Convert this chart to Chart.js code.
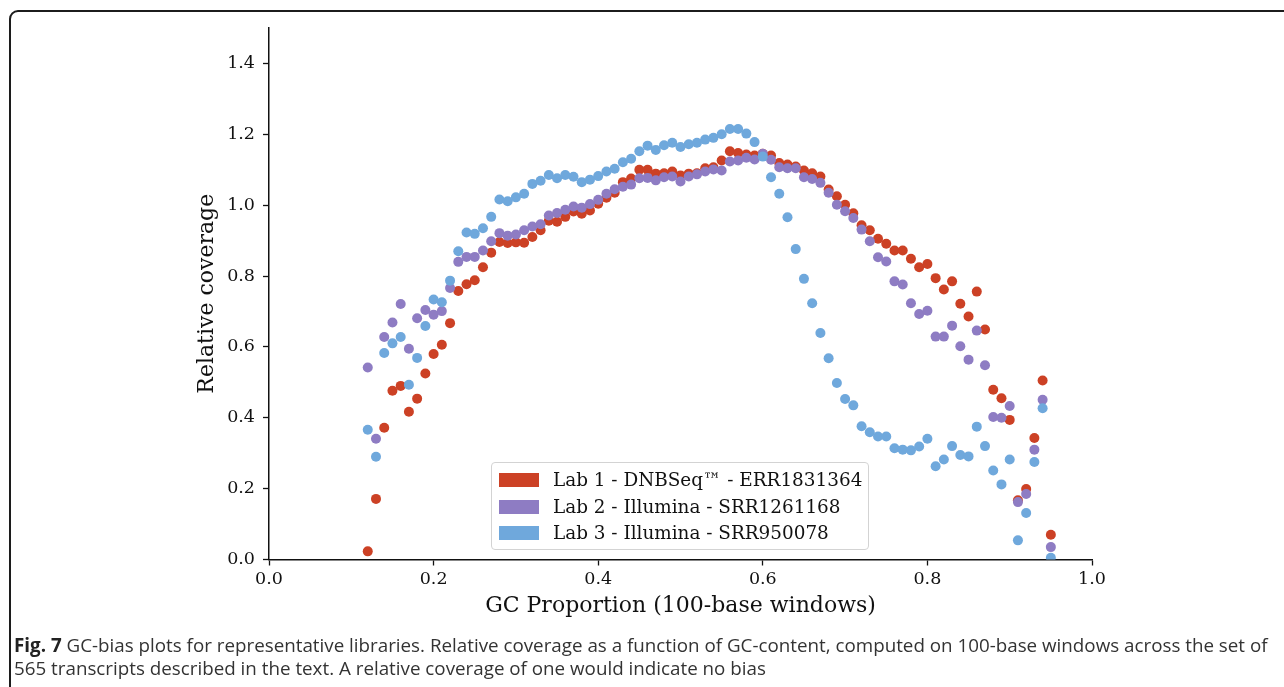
<!DOCTYPE html>
<html>
<head>
<meta charset="utf-8">
<script src="https://cdn.jsdelivr.net/npm/chart.js@4/dist/chart.umd.min.js"></script>
<style>
  html, body { margin: 0; padding: 0; background: #fff; }
  body { width: 1284px; height: 687px; position: relative; overflow: hidden; }
  #frame {
    position: absolute; left: 9px; top: 10px; width: 1400px; height: 800px;
    border: 2px solid #1c1c1c; border-radius: 9px; box-sizing: border-box;
  }
  #wrap { position: absolute; left: 0; top: 0; width: 1284px; height: 687px; }
  #legend {
    position: absolute; left: 491px; top: 462px; width: 378px; height: 88px;
    border: 1px solid #d3d3d3; border-radius: 4px; background: rgba(255,255,255,0.85);
    box-sizing: border-box; font-family: "DejaVu Serif", serif; font-size: 18.4px; color: #111;
  }
  #legend .row { position: absolute; left: 7px; height: 27px; line-height: 27px; white-space: nowrap; }
  #legend .sw { display: inline-block; width: 40px; height: 14px; vertical-align: middle; margin-right: 14px; position: relative; top: -1px; }
  #caption {
    position: absolute; left: 14px; top: 634px; width: 1270px; white-space: nowrap;
    font-family: "Open Sans", sans-serif; font-size: 18.8px; line-height: 23px; color: #333;
  }
  #caption b { color: #222; }
</style>
</head>
<body>
<div id="frame"></div>
<div id="wrap"><canvas id="gcChart" width="1284" height="687"></canvas></div>
<div id="legend"></div>
<div id="caption"><b>Fig. 7</b> GC-bias plots for representative libraries. Relative coverage as a function of GC-content, computed on 100-base windows across the set of<br>565 transcripts described in the text. A relative coverage of one would indicate no bias</div>
<script>
// GC-Anteil pro Fenster (x)
const gcProportion = [0.12,0.13,0.14,0.15,0.16,0.17,0.18,0.19,0.20,0.21,0.22,0.23,0.24,0.25,0.26,0.27,0.28,0.29,0.30,0.31,
  0.32,0.33,0.34,0.35,0.36,0.37,0.38,0.39,0.40,0.41,0.42,0.43,0.44,0.45,0.46,0.47,0.48,0.49,0.50,0.51,
  0.52,0.53,0.54,0.55,0.56,0.57,0.58,0.59,0.60,0.61,0.62,0.63,0.64,0.65,0.66,0.67,0.68,0.69,0.70,0.71,
  0.72,0.73,0.74,0.75,0.76,0.77,0.78,0.79,0.80,0.81,0.82,0.83,0.84,0.85,0.86,0.87,0.88,0.89,0.90,0.91,
  0.92,0.93,0.94,0.95];

// Lab 1 - DNBSeq
const lab1Coverage = [0.023,0.171,0.372,0.476,0.490,0.417,0.454,0.525,0.580,0.606,0.667,0.758,0.777,0.788,0.825,0.866,0.896,0.893,0.895,0.894,
  0.910,0.929,0.956,0.953,0.967,0.982,0.976,0.985,1.004,1.021,1.035,1.065,1.075,1.100,1.100,1.089,1.090,1.095,1.084,1.089,
  1.090,1.104,1.107,1.126,1.152,1.147,1.143,1.140,1.145,1.140,1.119,1.115,1.109,1.098,1.090,1.081,1.044,1.025,1.001,0.977,
  0.943,0.929,0.905,0.891,0.872,0.872,0.849,0.825,0.834,0.794,0.762,0.785,0.722,0.686,0.756,0.649,0.479,0.455,0.394,0.167,
  0.199,0.343,0.505,0.070];

// Lab 2 - Illumina SRR1261168
const lab2Coverage = [0.542,0.341,0.628,0.669,0.721,0.595,0.681,0.704,0.691,0.701,0.766,0.840,0.854,0.854,0.872,0.898,0.921,0.914,0.917,0.929,
  0.940,0.946,0.971,0.978,0.987,0.996,0.993,1.003,1.015,1.032,1.045,1.052,1.058,1.076,1.077,1.070,1.079,1.081,1.067,1.081,
  1.087,1.095,1.101,1.098,1.123,1.126,1.134,1.129,1.145,1.128,1.107,1.104,1.104,1.079,1.074,1.063,1.035,1.001,0.983,0.964,
  0.931,0.898,0.853,0.841,0.785,0.776,0.723,0.693,0.702,0.629,0.629,0.660,0.602,0.564,0.646,0.548,0.402,0.400,0.433,0.162,
  0.185,0.310,0.451,0.035];

// Lab 3 - Illumina SRR950078
const lab3Coverage = [0.366,0.290,0.583,0.610,0.628,0.493,0.569,0.659,0.734,0.726,0.787,0.870,0.923,0.919,0.935,0.967,1.016,1.011,1.022,1.032,
  1.060,1.069,1.085,1.076,1.085,1.080,1.065,1.072,1.082,1.095,1.103,1.121,1.131,1.152,1.168,1.156,1.169,1.176,1.164,1.172,
  1.176,1.185,1.190,1.200,1.215,1.215,1.202,1.178,1.137,1.079,1.032,0.966,0.876,0.792,0.723,0.639,0.568,0.498,0.453,0.435,
  0.376,0.359,0.347,0.347,0.314,0.310,0.308,0.319,0.341,0.263,0.282,0.320,0.295,0.291,0.375,0.320,0.251,0.212,0.282,0.054,
  0.131,0.275,0.427,0.005];

const seriesLabels = ["Lab 1 - DNBSeq\u2122 - ERR1831364", "Lab 2 - Illumina - SRR1261168", "Lab 3 - Illumina - SRR950078"];
const seriesColors = ["#cc4125", "#8e7cc3", "#6fa8dc"];
const yTicks = [0.0, 0.2, 0.4, 0.6, 0.8, 1.0, 1.2, 1.4];

const serif = "'DejaVu Serif', serif";

function points(ys){ return gcProportion.map((x, i) => ({ x: x, y: ys[i] })); }

const allSeries = [lab1Coverage, lab2Coverage, lab3Coverage];
const datasets = allSeries.map((ys, i) => ({
  label: seriesLabels[i],
  data: points(ys),
  backgroundColor: seriesColors[i],
  borderWidth: 0,
  pointRadius: 5,
  pointHoverRadius: 5,
  order: 3 - i // spätere Serie oben
}));

new Chart(document.getElementById("gcChart"), {
  type: "scatter",
  data: { datasets: datasets },
  options: {
    responsive: false,
    animation: false,
    events: [],
    layout: { padding: { left: 180, right: 192, top: 28, bottom: 65.5 } },
    plugins: { legend: { display: false }, tooltip: { enabled: false } },
    scales: {
      x: {
        type: "linear", min: 0, max: 1,
        afterFit: s => { s.height = 62; },
        ticks: { stepSize: 0.2, color: "#111", padding: 3, maxRotation: 0,
          font: { family: serif, size: 17.5 }, callback: v => v.toFixed(1) },
        grid: { drawOnChartArea: false, drawTicks: true, tickLength: 6, color: "#111", tickWidth: 1.3 },
        border: { display: true, color: "#111", width: 1.5 },
        title: { display: true, text: "GC Proportion (100-base windows)", color: "#111",
          font: { family: serif, size: 22 }, padding: { top: 0, bottom: 2 } }
      },
      y: {
        type: "linear", min: 0, max: 1.5,
        afterFit: s => { s.width = 89; },
        afterBuildTicks: s => { s.ticks = yTicks.map(v => ({ value: v })); },
        ticks: { color: "#111", padding: 8,
          font: { family: serif, size: 17.5 }, callback: v => v.toFixed(1) },
        grid: { drawOnChartArea: false, drawTicks: true, tickLength: 6, color: "#111", tickWidth: 1.3 },
        border: { display: true, color: "#111", width: 1.5 },
        title: { display: true, text: "Relative coverage", color: "#111",
          font: { family: serif, size: 22 }, padding: { top: 14, bottom: 0 } }
      }
    }
  }
});

// Legende
const legend = document.getElementById("legend");
seriesLabels.forEach((lab, i) => {
  const row = document.createElement("div");
  row.className = "row";
  row.style.top = (3 + i * 26.7) + "px";
  row.innerHTML = `<span class="sw" style="background:${seriesColors[i]}"></span>${lab}`;
  legend.appendChild(row);
});
</script>
</body>
</html>
